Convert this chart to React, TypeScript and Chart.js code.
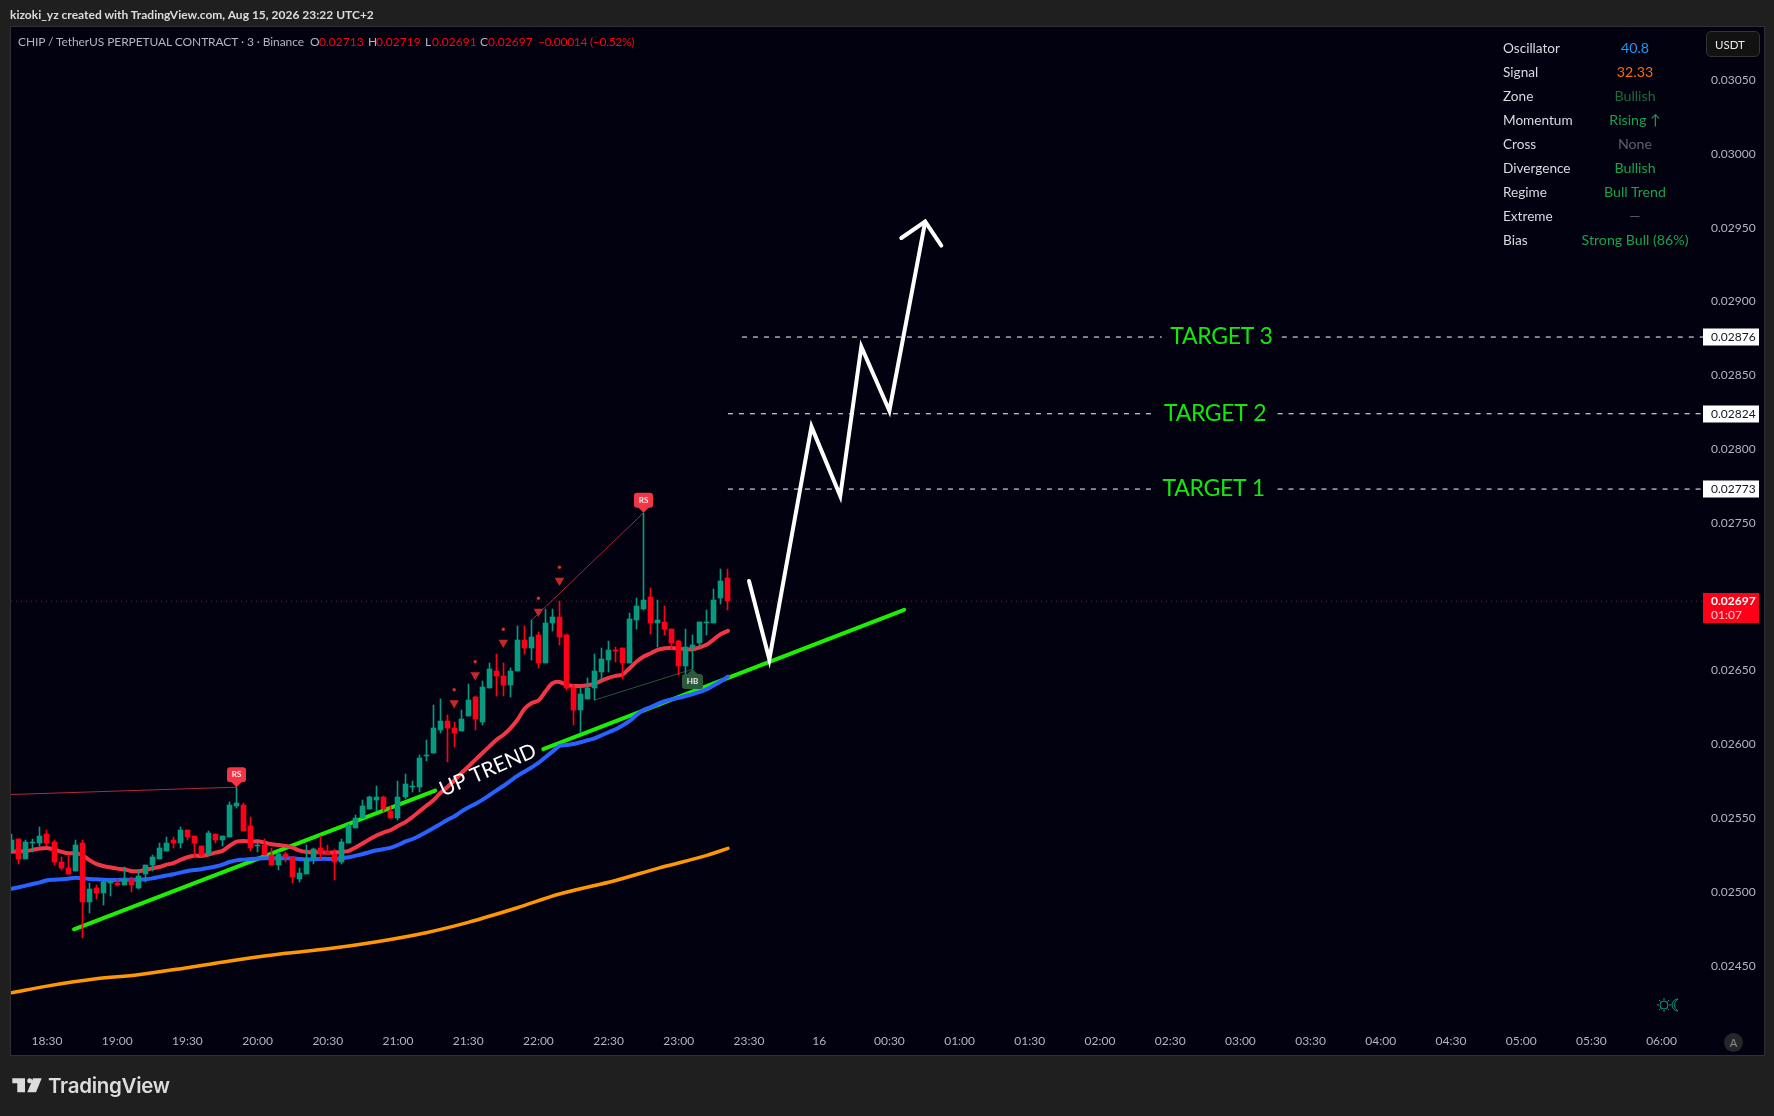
import React, { useEffect, useRef } from "react";
import { Chart, registerables } from "chart.js";

Chart.register(...registerables);

const FONT = 'Lato, "Noto Sans", sans-serif';
const BG = "#02010f";
const UP = "#089981";
const DOWN = "#ff0019";

const firstBar = -5;
const opens = [0.02528,0.02536,0.02522,0.02533,0.02533,0.02539,0.02534,0.02520,0.02516,0.02514,
0.02533,0.02493,0.02503,0.02499,0.02506,0.02506,0.02505,0.02509,0.02503,0.02512,
0.02518,0.02522,0.02528,0.02535,0.02533,0.02542,0.02538,0.02531,0.02526,0.02539,
0.02535,0.02537,0.02558,0.02559,0.02545,0.02531,0.02532,0.02525,0.02518,0.02526,
0.02524,0.02509,0.02512,0.02522,0.02530,0.02528,0.02526,0.02520,0.02533,0.02543,
0.02550,0.02556,0.02562,0.02564,0.02555,0.02550,0.02564,0.02571,0.02571,0.02592,
0.02594,0.02610,0.02616,0.02611,0.02609,0.02619,0.02632,0.02615,0.02638,0.02650,
0.02646,0.02640,0.02650,0.02671,0.02665,0.02674,0.02655,0.02682,0.02686,0.02674,
0.02638,0.02623,0.02631,0.02638,0.02649,0.02657,0.02664,0.02665,0.02655,0.02684,
0.02692,0.02700,0.02682,0.02683,0.02678,0.02670,0.02653,0.02665,0.02669,0.02682,
0.02682,0.02699,0.02713];
const highs = [0.02539,0.02536,0.02535,0.02536,0.02544,0.02542,0.02535,0.02524,0.02525,0.02535,
0.02535,0.02506,0.02505,0.02508,0.02508,0.02509,0.02517,0.02510,0.02515,0.02518,
0.02525,0.02533,0.02537,0.02537,0.02544,0.02542,0.02538,0.02531,0.02541,0.02539,
0.02538,0.02561,0.02571,0.02560,0.02551,0.02533,0.02536,0.02530,0.02527,0.02527,
0.02524,0.02516,0.02532,0.02530,0.02538,0.02532,0.02529,0.02536,0.02546,0.02552,
0.02562,0.02565,0.02572,0.02565,0.02558,0.02575,0.02580,0.02575,0.02593,0.02603,
0.02627,0.02631,0.02620,0.02615,0.02623,0.02641,0.02633,0.02643,0.02655,0.02661,
0.02655,0.02652,0.02680,0.02680,0.02684,0.02676,0.02692,0.02692,0.02697,0.02675,
0.02640,0.02638,0.02645,0.02661,0.02665,0.02670,0.02666,0.02665,0.02689,0.02699,
0.02757,0.02706,0.02698,0.02694,0.02678,0.02671,0.02678,0.02674,0.02683,0.02691,
0.02705,0.02719,0.02719];
const lows = [0.02527,0.02519,0.02522,0.02527,0.02531,0.02531,0.02518,0.02515,0.02512,0.02514,
0.02469,0.02486,0.02495,0.02491,0.02497,0.02504,0.02505,0.02500,0.02502,0.02507,
0.02514,0.02522,0.02528,0.02530,0.02530,0.02535,0.02524,0.02524,0.02525,0.02533,
0.02531,0.02537,0.02557,0.02541,0.02528,0.02527,0.02525,0.02518,0.02515,0.02520,
0.02506,0.02507,0.02512,0.02519,0.02522,0.02526,0.02508,0.02519,0.02533,0.02543,
0.02550,0.02556,0.02555,0.02554,0.02550,0.02549,0.02563,0.02568,0.02568,0.02589,
0.02594,0.02608,0.02588,0.02598,0.02609,0.02619,0.02610,0.02613,0.02638,0.02633,
0.02633,0.02632,0.02650,0.02661,0.02657,0.02652,0.02655,0.02677,0.02667,0.02637,
0.02613,0.02608,0.02631,0.02630,0.02643,0.02649,0.02656,0.02644,0.02655,0.02678,
0.02691,0.02675,0.02666,0.02674,0.02664,0.02647,0.02642,0.02651,0.02666,0.02674,
0.02682,0.02695,0.02691];
const closes = [0.02535,0.02522,0.02534,0.02534,0.02538,0.02533,0.02520,0.02516,0.02512,0.02532,
0.02493,0.02502,0.02499,0.02507,0.02507,0.02505,0.02509,0.02505,0.02511,0.02518,
0.02524,0.02530,0.02533,0.02533,0.02542,0.02537,0.02533,0.02525,0.02540,0.02535,
0.02538,0.02559,0.02560,0.02541,0.02530,0.02532,0.02525,0.02518,0.02526,0.02524,
0.02510,0.02513,0.02522,0.02529,0.02526,0.02526,0.02520,0.02534,0.02545,0.02550,
0.02558,0.02564,0.02564,0.02556,0.02550,0.02564,0.02573,0.02572,0.02591,0.02593,
0.02611,0.02616,0.02611,0.02608,0.02617,0.02630,0.02617,0.02639,0.02651,0.02646,
0.02640,0.02650,0.02671,0.02665,0.02673,0.02655,0.02682,0.02686,0.02673,0.02638,
0.02623,0.02634,0.02638,0.02650,0.02658,0.02664,0.02663,0.02655,0.02685,0.02694,
0.02698,0.02682,0.02684,0.02678,0.02669,0.02653,0.02666,0.02667,0.02683,0.02683,
0.02698,0.02711,0.02697];

const redEma = [0.025273,0.025275,0.025278,0.025285,0.025294,0.025298,0.025289,0.025273,0.025262,0.025262,
0.025251,0.025217,0.025190,0.025176,0.025167,0.025158,0.025154,0.025142,0.025140,0.025149,
0.025160,0.025169,0.025185,0.025196,0.025217,0.025235,0.025246,0.025244,0.025253,0.025266,
0.025278,0.025312,0.025341,0.025346,0.025341,0.025343,0.025334,0.025323,0.025318,0.025312,
0.025300,0.025280,0.025271,0.025269,0.025269,0.025266,0.025269,0.025271,0.025278,0.025303,
0.025330,0.025359,0.025384,0.025404,0.025420,0.025447,
0.025472,0.025506,0.025544,0.025582,0.025619,0.025669,0.025709,0.025755,0.025804,0.025849,
0.025895,0.025940,0.025985,0.026030,0.026064,0.026109,0.026165,0.026240,0.026279,0.026297,
0.026358,0.026414,0.026423,0.026403,0.026396,0.026396,0.026401,0.026410,0.026432,0.026450,
0.026464,0.026473,0.026516,0.026561,0.026595,0.026617,0.026640,0.026651,0.026653,0.026649,
0.026644,0.026644,0.026658,0.026676,0.026712,0.026748,0.026769];
const blueEma = [0.025022,0.025032,0.025043,0.025054,0.025065,0.025079,0.025083,0.025086,0.025090,0.025097,
0.025092,0.025088,0.025086,0.025083,0.025081,0.025081,0.025083,0.025083,0.025083,0.025086,
0.025092,0.025102,0.025111,0.025120,0.025131,0.025142,0.025149,0.025154,0.025163,0.025172,
0.025185,0.025203,0.025214,0.025219,0.025224,0.025226,0.025228,0.025228,0.025228,0.025228,
0.025228,0.025224,0.025221,0.025221,0.025224,0.025224,0.025224,0.025228,0.025235,0.025246,
0.025257,0.025271,0.025282,0.025291,0.025300,0.025318,
0.025341,0.025357,0.025379,0.025404,0.025431,0.025459,0.025488,0.025511,0.025544,0.025572,
0.025596,0.025624,0.025655,0.025687,0.025718,0.025752,0.025786,0.025815,0.025843,0.025874,
0.025913,0.025951,0.025989,0.025996,0.026003,0.026014,0.026028,0.026041,0.026062,0.026082,
0.026102,0.026129,0.026159,0.026200,0.026233,0.026252,0.026274,0.026292,0.026306,0.026315,
0.026328,0.026340,0.026355,0.026374,0.026401,0.026428,0.026459];
const orangeBars = [-5,0,7,13,20,27,34,40,47,54,60,67,73,81,87,94,97];
const orangeEma = [0.024317,0.024362,0.024412,0.024439,0.024487,0.024539,0.024584,0.024615,0.024663,0.024724,0.024794,0.024893,0.024986,0.025078,0.025160,0.025248,0.025295];

const trendLow = [[3.85,0.024747],[55.3,0.025687]];
const trendHigh = [[70.7,0.025968],[122.1,0.026912]];
const arrowPath = [[100,0.027107],[102.9,0.026576],[108.9,0.028153],[113,0.027683],[116,0.028695],[120,0.028261],[125.1,0.029542]];
const arrowHead = [[121.7,0.029431],[125.1,0.029542],[127.4,0.029379]];

const targetPrices = [0.02876,0.02824,0.02773];
const targetLabels = ["TARGET 3","TARGET 2","TARGET 1"];
const targetLabelBars = [167.3,166.4,166.2];
const targetLeftStart = [99,97,97];
const targetLeftEnd = [158.8,157.3,157.3];
const targetRightStart = [175.9,175.3,175.3];

const triangleBars = [58,61,65,70,73];
const trianglePrices = [0.02628,0.02647,0.02669,0.02690,0.02711];
const dotPrices = [0.02637,0.02656,0.02678,0.02699,0.02720];
const rsLineA = [[-5.2,0.02566],[27,0.02571]];
const rsLineB = [[69,0.02684],[85,0.02757]];
const hbLine = [[78,0.02630],[92,0.02651]];

const lastPrice = 0.02697;
const countdown = "01:07";
const minBar = -5.128, maxBar = 235.9;
const minPrice = 0.024112, maxPrice = 0.030854;
const priceTicks = [0.0245,0.025,0.0255,0.026,0.0265,0.027,0.0275,0.028,0.0285,0.029,0.0295,0.03,0.0305];
const timeLabels = ["18:30","19:00","19:30","20:00","20:30","21:00","21:30","22:00","22:30","23:00","23:30","16","00:30","01:00","01:30","02:00","02:30","03:00","03:30","04:00","04:30","05:00","05:30","06:00"];

const tableRows = [
  ["Oscillator","40.8","#2196f3"],
  ["Signal","32.33","#ff6d00"],
  ["Zone","Bullish","#1c6b3c"],
  ["Momentum","Rising ↑","#16a34f"],
  ["Cross","None","#5d606b"],
  ["Divergence","Bullish","#16a34f"],
  ["Regime","Bull Trend","#16a34f"],
  ["Extreme","—","#5d606b"],
  ["Bias","Strong Bull (86%)","#16a34f"],
];
const legendParts = [
  [18,"CHIP / TetherUS PERPETUAL CONTRACT · 3 · Binance","#b2b5be",-0.09],
  [310,"O","#b2b5be",0],[319,"0.02713",DOWN,0],
  [368,"H","#b2b5be",0],[376,"0.02719",DOWN,0],
  [425,"L","#b2b5be",0],[432,"0.02691",DOWN,0],
  [480,"C","#b2b5be",0],[488,"0.02697",DOWN,0],
  [538,"−0.00014 (−0.52%)",DOWN,-0.3],
];

const pts = (a: number[][]) => a.map(([x, y]) => ({ x, y }));
const series = (v: number[]) => v.map((y, k) => ({ x: firstBar + k, y }));
const lineDs = (data: any[], color: string, width: number, order: number, extra: any = {}) => ({
  type: "line", data, borderColor: color, borderWidth: width, pointRadius: 0, order,
  borderCapStyle: "round", borderJoinStyle: "round", fill: false, ...extra,
});

const overlayPlugin = {
  id: "overlay",
  beforeDatasetsDraw(chart: any) {
    chart.data.datasets.forEach((d: any, n: number) => {
      if (d.type !== "bar") return;
      chart.getDatasetMeta(n).data.forEach((el: any) => {
        el.x = Math.floor(el.x) + 0.5;
        el.y = Math.round(el.y);
        el.base = Math.round(el.base);
        if (el.y === el.base) el.y -= 1;
      });
    });
  },
  afterDatasetsDraw(chart: any) {
    const { ctx, scales: { x, y }, chartArea: area } = chart;
    const marker = (bar: number, price: number, label: string, color: string, up: boolean) => {
      const px = Math.floor(x.getPixelForValue(bar)) + 0.5, py = y.getPixelForValue(price);
      const w = up ? 21 : 19, h = 15, tip = 5;
      const top = up ? py + tip : py - tip - h;
      ctx.save();
      ctx.fillStyle = color;
      ctx.beginPath();
      ctx.roundRect(px - w / 2, top, w, h, 3);
      ctx.fill();
      ctx.beginPath();
      ctx.moveTo(px, py);
      ctx.lineTo(px - 6, up ? top + 1 : top + h - 1);
      ctx.lineTo(px + 6, up ? top + 1 : top + h - 1);
      ctx.closePath();
      ctx.fill();
      ctx.fillStyle = "#f4e9ea";
      ctx.font = `bold 8px ${FONT}`;
      ctx.textAlign = "center";
      ctx.textBaseline = "middle";
      ctx.fillText(label, px, top + h / 2);
      ctx.restore();
    };
    marker(27, highs[27 - firstBar], "RS", "#f23645", false);
    marker(85, highs[85 - firstBar], "RS", "#f23645", false);
    marker(92, lows[92 - firstBar], "HB", "#2a5a3a", true);

    ctx.save();
    ctx.textBaseline = "middle";
    ctx.textAlign = "center";
    ctx.font = `23px ${FONT}`;
    (ctx as any).letterSpacing = "-0.3px";
    ctx.fillStyle = "#12e80c";
    targetLabels.forEach((t, k) => ctx.fillText(t, x.getPixelForValue(targetLabelBars[k]), y.getPixelForValue(targetPrices[k])));
    (ctx as any).letterSpacing = "0px";
    ctx.save();
    ctx.translate(x.getPixelForValue(62.8), y.getPixelForValue(0.025826));
    ctx.rotate((-23.3 * Math.PI) / 180);
    ctx.font = `21px ${FONT}`;
    ctx.fillStyle = "#ffffff";
    ctx.fillText("UP TREND", 0, 0);
    ctx.restore();

    ctx.textAlign = "left";
    ctx.font = `12px ${FONT}`;
    targetPrices.forEach((p) => {
      const py = Math.round(y.getPixelForValue(p));
      ctx.fillStyle = "#ffffff";
      ctx.fillRect(area.right, py - 8.5, 56, 17);
      ctx.fillStyle = "#131722";
      ctx.fillText(p.toFixed(5), area.right + 8, py + 0.5);
    });
    const ly = Math.round(y.getPixelForValue(lastPrice));
    ctx.fillStyle = DOWN;
    ctx.fillRect(area.right, ly - 8, 56, 30);
    ctx.fillStyle = "#ffffff";
    ctx.font = `bold 12px ${FONT}`;
    ctx.fillText(lastPrice.toFixed(5), area.right + 8, ly);
    ctx.fillStyle = "#ffd0d5";
    ctx.font = `12px ${FONT}`;
    ctx.fillText(countdown, area.right + 8, ly + 14);
    ctx.restore();
  },
};

export default function App() {
  const ref = useRef<HTMLCanvasElement>(null);
  useEffect(() => {
    const candleColors = closes.map((c, k) => (c >= opens[k] ? UP : DOWN));
    const targetSegments: any[] = [];
    targetPrices.forEach((p, k) => {
      targetSegments.push(lineDs([{ x: targetLeftStart[k], y: p }, { x: targetLeftEnd[k], y: p }], "#ffffff", 1, 6, { borderDash: [5, 6], borderCapStyle: "butt" }));
      targetSegments.push(lineDs([{ x: targetRightStart[k], y: p }, { x: maxBar, y: p }], "#ffffff", 1, 6, { borderDash: [5, 6], borderCapStyle: "butt" }));
    });
    const chart = new Chart(ref.current as HTMLCanvasElement, {
      type: "bar",
      plugins: [overlayPlugin],
      data: {
        datasets: [
          lineDs([{ x: minBar, y: lastPrice }, { x: maxBar, y: lastPrice }], "rgba(255,0,30,0.75)", 1, 20, { borderDash: [1, 4], borderCapStyle: "butt" }),
          lineDs(orangeBars.map((b, k) => ({ x: b, y: orangeEma[k] })), "#ff9800", 3.5, 19, { cubicInterpolationMode: "monotone" }),
          lineDs(pts(trendLow), "#1cf000", 4, 18),
          lineDs(pts(trendHigh), "#1cf000", 4, 18),
          lineDs(series(blueEma), "#2962ff", 4, 17, { tension: 0.3 }),
          lineDs(series(redEma), "#f23645", 4, 16, { tension: 0.3 }),
          lineDs(pts(rsLineA), "rgba(242,54,69,0.75)", 1, 15, { borderCapStyle: "butt" }),
          lineDs(pts(rsLineB), "rgba(242,54,69,0.7)", 1, 15, { borderCapStyle: "butt" }),
          lineDs(pts(hbLine), "rgba(60,120,72,0.7)", 1, 15, { borderCapStyle: "butt" }),
          {
            type: "bar", order: 10, grouped: false, barThickness: 1,
            data: lows.map((l, k) => ({ x: firstBar + k, y: [l, highs[k]] })),
            backgroundColor: candleColors, borderWidth: 0,
          },
          {
            type: "bar", order: 9, grouped: false, barThickness: 5, minBarLength: 1,
            data: opens.map((o, k) => ({ x: firstBar + k, y: [Math.min(o, closes[k]), Math.max(o, closes[k])] })),
            backgroundColor: candleColors, borderWidth: 0,
          },
          {
            type: "line", order: 8, showLine: false, pointStyle: "triangle", rotation: 180, pointRadius: 5.5, pointBorderWidth: 0,
            pointBackgroundColor: "#c62828",
            data: triangleBars.map((b, k) => ({ x: b, y: trianglePrices[k] })),
          },
          {
            type: "line", order: 7, showLine: false, pointStyle: "circle", pointRadius: 1.7, pointBorderWidth: 0,
            pointBackgroundColor: "#d32f2f",
            data: triangleBars.map((b, k) => ({ x: b, y: dotPrices[k] })),
          },
          ...targetSegments,
          lineDs(pts(arrowPath), "#ffffff", 4, 5, { borderJoinStyle: "miter" }),
          lineDs(pts(arrowHead), "#ffffff", 4, 5, { borderJoinStyle: "miter" }),
        ],
      } as any,
      options: {
        animation: false,
        responsive: false,
        devicePixelRatio: 1,
        events: [],
        layout: { padding: { left: 11, top: 28, right: 11, bottom: 61 } },
        plugins: { legend: { display: false }, tooltip: { enabled: false } },
        scales: {
          x: {
            type: "linear", offset: false, min: minBar, max: maxBar,
            grid: { display: false, drawTicks: false }, border: { display: false },
            afterFit(s: any) { s.height = 32; },
            afterBuildTicks(s: any) { s.ticks = timeLabels.map((_, k) => ({ value: k * 10 })); },
            ticks: {
              autoSkip: false, maxRotation: 0, minRotation: 0, padding: 11, color: "#b2b5be",
              font: { family: FONT, size: 12 },
              callback: (v: any) => timeLabels[Math.round(v / 10)],
            },
          },
          y: {
            type: "linear", position: "right", min: minPrice, max: maxPrice,
            grid: { display: false, drawTicks: false }, border: { display: false },
            afterFit(s: any) { s.width = 60; },
            afterBuildTicks(s: any) { s.ticks = priceTicks.map((value) => ({ value })); },
            ticks: {
              padding: 8, color: "#b2b5be", font: { family: FONT, size: 12 },
              callback: (v: any) => Number(v).toFixed(5),
            },
          },
        },
      } as any,
    });
    return () => chart.destroy();
  }, []);

  const abs = (s: React.CSSProperties): React.CSSProperties => ({ position: "absolute", whiteSpace: "nowrap", ...s });
  return (
    <div style={{ position: "relative", width: 1774, height: 1116, overflow: "hidden", background: "#1f1f1f", fontFamily: FONT }}>
      <style>{`html,body{margin:0;padding:0;background:#1f1f1f}`}</style>
      <div style={abs({ left: 9.5, top: 26, width: 1753, height: 1028, background: BG, border: "1.5px solid #303030" })} />
      <canvas ref={ref} width={1774} height={1116} style={abs({ left: 0, top: 0, width: 1774, height: 1116 })} />
      <div style={abs({ left: 10, top: 7, fontSize: 12, fontWeight: 700, color: "#dcdcdc", lineHeight: "16px" })}>kizoki_yz created with TradingView.com, Aug 15, 2026 23:22 UTC+2</div>
      {legendParts.map(([l, t, c, sp]) => (
        <div key={String(l)} style={abs({ left: l as number, top: 34, fontSize: 12, color: c as string, lineHeight: "15px", letterSpacing: sp as number })}>{t}</div>
      ))}
      {tableRows.map(([name, val, col], k) => (
        <React.Fragment key={name}>
          <div style={abs({ left: 1503, top: 40 + k * 24, fontSize: 13.6, color: "#d8dae0", lineHeight: "16px" })}>{name}</div>
          <div style={abs({ left: 1535, width: 200, textAlign: "center", top: 40 + k * 24, fontSize: 14.2, color: col, lineHeight: "16px" })}>{val}</div>
        </React.Fragment>
      ))}
      <div style={abs({ left: 1706, top: 31, width: 54, height: 26, boxSizing: "border-box", background: "#121212", border: "1px solid #333", borderRadius: 5, color: "#e8e8e8", fontSize: 11.5, lineHeight: "25px", paddingLeft: 8 })}>USDT</div>
      <svg width={60} height={30} style={abs({ left: 0, top: 1070 })}>
        <path d="M12.3 8.3H25V22.3H17.3V13.3H12.3Z" fill="#dcdcdc" />
        <circle cx={29.7} cy={10.8} r={2.5} fill="#dcdcdc" />
        <path d="M33 8.3H41.7L36 22.3H27.3Z" fill="#dcdcdc" />
      </svg>
      <div style={abs({ left: 48, top: 1072, fontFamily: "Inter", fontWeight: 600, fontSize: 20.5, letterSpacing: -0.3, color: "#dcdcdc", lineHeight: "28px" })}>TradingView</div>
      <svg width={30} height={20} style={abs({ left: 1655, top: 995 })}>
        <circle cx={9} cy={10} r={4} fill="none" stroke={UP} strokeWidth={1} />
        <path d="M9 3V5M9 15V17M2 10H4M14 10H16M4 5L5.5 6.5M12.5 13.5L14 15M4 15L5.5 13.5M12.5 6.5L14 5" stroke={UP} strokeWidth={1} />
        <path d="M23 4A6 6 0 0 0 23 16A7 7 0 0 1 23 4Z" fill="none" stroke={UP} strokeWidth={1} />
      </svg>
      <div style={abs({ left: 1724, top: 1033, width: 19, height: 19, borderRadius: "50%", background: "#26262a", color: "#8a8a8f", fontSize: 11, lineHeight: "19px", textAlign: "center" })}>A</div>
    </div>
  );
}
